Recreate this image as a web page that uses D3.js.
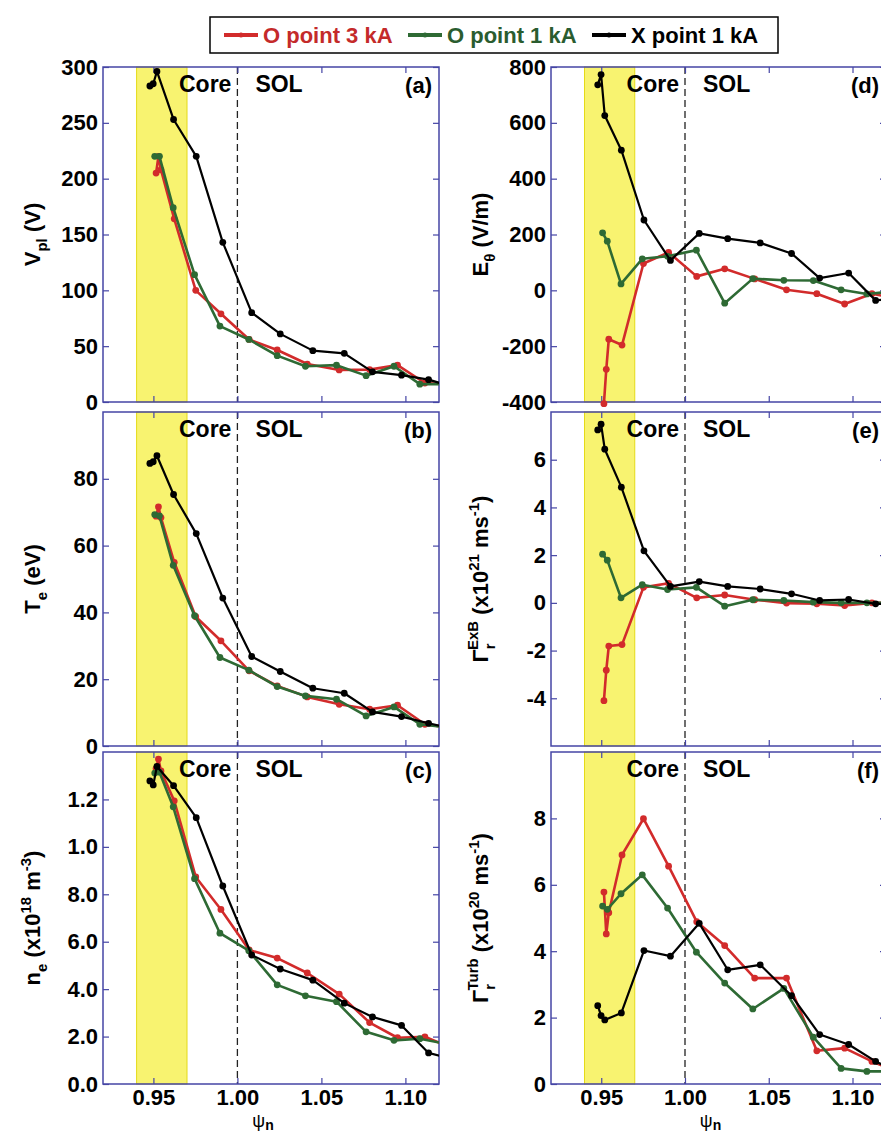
<!DOCTYPE html>
<html>
<head>
<meta charset="utf-8">
<script src="https://cdn.jsdelivr.net/npm/d3@7"></script>
<style>
  body { margin: 0; background: #fff; }
  svg { display: block; font-family: "Liberation Sans", Arial, sans-serif; }
</style>
</head>
<body>
<div id="wrapper"></div>
<script>

// probe positions (psi_n) of each series, same in every panel
var psiRed   = [0.9516, 0.9530, 0.9545, 0.9624, 0.9752, 0.9902, 1.0070, 1.0237, 1.0416, 1.0606, 1.0787, 1.0953, 1.1116, 1.125];
var psiGreen = [0.9508, 0.9536, 0.9618, 0.9745, 0.9896, 1.0068, 1.0237, 1.0405, 1.0590, 1.0766, 1.0932, 1.1086, 1.125];
var psiBlack = [0.9479, 0.9499, 0.9521, 0.9620, 0.9755, 0.9913, 1.0085, 1.0255, 1.0449, 1.0636, 1.0804, 1.0977, 1.1138, 1.125];

// (a) Vpl
var vplRed   = [205, 220, 208, 164, 100, 79, 56, 46.6, 34, 28.7, 29, 33, 17, 16];
var vplGreen = [220, 220, 174, 114, 68, 56, 41.5, 32, 33, 23.6, 32, 16, 16];
var vplBlack = [283, 285, 296, 253, 220, 143, 80, 61, 46, 43.6, 27, 24, 20, 15];
// (b) Te
var teRed   = [68.8, 71.6, 68.4, 55.0, 38.7, 31.5, 22.5, 18.0, 14.7, 12.5, 11.0, 12.2, 6.5, 5.6];
var teGreen = [69.3, 68.9, 54.1, 39.0, 26.5, 22.7, 17.8, 15.0, 14.0, 9.0, 11.7, 6.5, 5.6];
var teBlack = [84.6, 85.1, 86.9, 75.3, 63.6, 44.3, 26.8, 22.3, 17.3, 15.8, 10.2, 8.8, 6.8, 5.5];
// (c) ne
var neRed   = [13.3, 13.7, 13.2, 11.94, 8.73, 7.36, 5.65, 5.31, 4.68, 3.79, 2.59, 1.95, 1.99, 1.6];
var neGreen = [13.11, 13.15, 11.69, 8.66, 6.36, 5.62, 4.18, 3.72, 3.47, 2.20, 1.84, 1.91, 1.68];
var neBlack = [12.78, 12.61, 13.39, 12.58, 11.23, 8.35, 5.44, 4.85, 4.38, 3.41, 2.83, 2.47, 1.31, 1.1];
// (d) E theta
var eRed   = [-406, -283, -175, -196, 96, 136, 50, 77, 41, 2, -12, -49, -12, -28];
var eGreen = [206, 176, 23, 113, 122, 144, -46, 42, 36, 35, 2, -13, -4];
var eBlack = [736, 773, 626, 502, 252, 107, 204, 185, 170, 132, 44, 62, -36, -30];
// (e) Gamma ExB
var gexbRed   = [-4.10, -2.82, -1.81, -1.75, 0.65, 0.82, 0.21, 0.33, 0.13, -0.01, -0.04, -0.11, 0, 0];
var gexbGreen = [2.04, 1.79, 0.21, 0.76, 0.56, 0.65, -0.14, 0.13, 0.10, 0.03, 0, 0, 0];
var gexbBlack = [7.25, 7.49, 6.44, 4.85, 2.18, 0.69, 0.89, 0.69, 0.58, 0.38, 0.10, 0.14, -0.04, -0.04];
// (f) Gamma Turb
var gturbRed   = [5.78, 4.52, 5.16, 6.90, 7.99, 6.56, 4.89, 4.17, 3.19, 3.19, 1.00, 1.08, 0.68, 0.4];
var gturbGreen = [5.36, 5.26, 5.73, 6.30, 5.30, 3.97, 3.04, 2.26, 2.88, 1.41, 0.47, 0.38, 0.38];
var gturbBlack = [2.36, 2.06, 1.93, 2.14, 4.02, 3.85, 4.84, 3.44, 3.59, 2.66, 1.49, 1.19, 0.68, 0.4];

var seriesNames = ["O point 3 kA", "O point 1 kA", "X point 1 kA"];

// ticks
var xTicks = [0.95, 1.00, 1.05, 1.10];
var ticksA = [0, 50, 100, 150, 200, 250, 300];
var ticksB = [0, 20, 40, 60, 80];
var ticksC = [0, 2, 4, 6, 8, 10, 12];
var tickLabelsC = ["0.0", "2.0", "4.0", "6.0", "8.0", "1.0", "1.2"];
var ticksD = [-400, -200, 0, 200, 400, 600, 800];
var ticksE = [-4, -2, 0, 2, 4, 6];
var ticksF = [0, 2, 4, 6, 8];

var xDomain = [0.92, 1.12];
var bandRange = [0.94, 0.97];
var separatrix = 1.0;

var colors = ["#d22b2b", "#2e6a34", "#000000"];
var textColors = ["#c42a2a", "#2a5c2f", "#000000"];
var widths = [2.6, 2.6, 2.2];
var frameColor = "#4545a5";

var cols = [{left: 103, right: 439}, {left: 551, right: 886}];
var rows = [{top: 67, bottom: 402}, {top: 412, bottom: 746}, {top: 752, bottom: 1084}];

var panels = [
	{tag: "(a)", col: 0, row: 0, domain: [0, 300], ticks: ticksA, data: [vplRed, vplGreen, vplBlack],
	 label: [["V", ""], ["pl", "sub"], [" (V)", ""]]},
	{tag: "(b)", col: 0, row: 1, domain: [0, 100], ticks: ticksB, data: [teRed, teGreen, teBlack],
	 label: [["T", ""], ["e", "sub"], ["  (eV)", ""]]},
	{tag: "(c)", col: 0, row: 2, domain: [0, 14], ticks: ticksC, tickLabels: tickLabelsC, data: [neRed, neGreen, neBlack],
	 label: [["n", ""], ["e", "sub"], [" (x10", ""], ["18", "sup"], [" m", ""], ["-3", "sup"], [")", ""]]},
	{tag: "(d)", col: 1, row: 0, domain: [-400, 800], ticks: ticksD, data: [eRed, eGreen, eBlack],
	 label: [["E", ""], ["\u03b8", "sub"], [" (V/m)", ""]]},
	{tag: "(e)", col: 1, row: 1, domain: [-6, 8], ticks: ticksE, data: [gexbRed, gexbGreen, gexbBlack],
	 label: [["\u0393", ""], ["r", "sub"], ["ExB", "supback"], [" (x10", ""], ["21", "sup"], [" ms", ""], ["-1", "sup"], [")", ""]]},
	{tag: "(f)", col: 1, row: 2, domain: [0, 10], ticks: ticksF, data: [gturbRed, gturbGreen, gturbBlack],
	 label: [["\u0393", ""], ["r", "sub"], ["Turb", "supback"], [" (x10", ""], ["20", "sup"], [" ms", ""], ["-1", "sup"], [")", ""]]}
];

var psiList = [psiRed, psiGreen, psiBlack];

var svg = d3.select("#wrapper").append("svg")
	.attr("width", 881)
	.attr("height", 1135);

// write text made of normal / sub / sup pieces
function richText(sel, pieces, size) {
	var shift = 0;
	pieces.forEach(function(p) {
		var t = sel.append("tspan").text(p[0]);
		var target = 0;
		if (p[1] === "sub") {
			target = size * 0.3;
			t.attr("font-size", size * 0.68);
		} else if (p[1] === "sup" || p[1] === "supback") {
			target = -size * 0.42;
			t.attr("font-size", size * 0.68);
		} else {
			t.attr("font-size", size);
		}
		if (p[1] === "supback") {
			target = -size * 0.45;
			t.attr("dx", -size * 0.3);
		}
		t.attr("dy", target - shift);
		shift = target;
	});
}

panels.forEach(function(p, pi) {

	var c = cols[p.col], r = rows[p.row];
	var x = d3.scaleLinear().domain(xDomain).range([c.left, c.right]);
	var y = d3.scaleLinear().domain(p.domain).range([r.bottom, r.top]);

	var g = svg.append("g").attr("class", "panel");

	var clipId = "clip" + pi;
	g.append("clipPath").attr("id", clipId)
		.append("rect")
		.attr("x", c.left).attr("y", r.top)
		.attr("width", c.right - c.left).attr("height", r.bottom - r.top);

	// yellow band
	g.append("rect")
		.attr("x", x(bandRange[0]))
		.attr("y", r.top)
		.attr("width", x(bandRange[1]) - x(bandRange[0]))
		.attr("height", r.bottom - r.top)
		.attr("fill", "#f8f370")
		.attr("stroke", "#e4da18")
		.attr("stroke-width", 1);

	// separatrix
	g.append("line")
		.attr("x1", x(separatrix)).attr("x2", x(separatrix))
		.attr("y1", r.top).attr("y2", r.bottom)
		.attr("stroke", "#222")
		.attr("stroke-width", 1.3)
		.attr("stroke-dasharray", "7,4");

	g.append("text")
		.attr("x", x(separatrix) - 6).attr("y", r.top + 25)
		.attr("text-anchor", "end")
		.attr("font-size", 23).attr("font-weight", "bold")
		.text("Core");
	g.append("text")
		.attr("x", x(separatrix) + 18).attr("y", r.top + 25)
		.attr("font-size", 23).attr("font-weight", "bold")
		.text("SOL");
	g.append("text")
		.attr("x", c.right - 7).attr("y", r.top + 26)
		.attr("text-anchor", "end")
		.attr("font-size", 22).attr("font-weight", "bold")
		.text(p.tag);

	// axes: ticks pointing inwards on all four sides
	var left = d3.axisLeft(y).tickValues(p.ticks).tickSizeInner(-6).tickSizeOuter(0).tickPadding(5)
		.tickFormat(function(d, i) { return p.tickLabels ? p.tickLabels[i] : d; });
	var right = d3.axisRight(y).tickValues(p.ticks).tickSizeInner(-6).tickSizeOuter(0).tickFormat("");
	var top = d3.axisTop(x).tickValues(xTicks).tickSizeInner(-6).tickSizeOuter(0).tickFormat("");
	var bottom = d3.axisBottom(x).tickValues(xTicks).tickSizeInner(-6).tickSizeOuter(0).tickPadding(5)
		.tickFormat(p.row === 2 ? d3.format(".2f") : "");

	var axes = [
		g.append("g").attr("transform", "translate(" + c.left + ",0)").call(left),
		g.append("g").attr("transform", "translate(" + c.right + ",0)").call(right),
		g.append("g").attr("transform", "translate(0," + r.top + ")").call(top),
		g.append("g").attr("transform", "translate(0," + r.bottom + ")").call(bottom)
	];
	axes.forEach(function(a) {
		a.attr("font-family", null).attr("font-size", null);
		a.select(".domain").remove();
		a.selectAll(".tick line").attr("stroke", frameColor).attr("stroke-width", 1.2);
		a.selectAll(".tick text")
			.attr("fill", "#000")
			.attr("font-size", 22)
			.attr("font-weight", "bold");
	});

	// frame
	g.append("rect")
		.attr("x", c.left).attr("y", r.top)
		.attr("width", c.right - c.left).attr("height", r.bottom - r.top)
		.attr("fill", "none")
		.attr("stroke", frameColor)
		.attr("stroke-width", 1.5);

	// series
	p.data.forEach(function(vals, si) {
		var pts = vals.map(function(v, k) { return [psiList[si][k], v]; });
		var line = d3.line()
			.x(function(d) { return x(d[0]); })
			.y(function(d) { return y(d[1]); });
		g.append("path")
			.datum(pts)
			.attr("clip-path", "url(#" + clipId + ")")
			.attr("d", line)
			.attr("fill", "none")
			.attr("stroke", colors[si])
			.attr("stroke-width", widths[si])
			.attr("stroke-linejoin", "round");
		g.selectAll(".pt" + si)
			.data(pts.filter(function(d) { return d[0] <= xDomain[1]; }))
			.enter()
			.append("circle")
			.attr("cx", function(d) { return x(d[0]); })
			.attr("cy", function(d) { return y(d[1]); })
			.attr("r", 3.4)
			.attr("fill", colors[si]);
	});

	// y label
	var lx = p.col === 0 ? 40 : 488;
	var ly = (r.top + r.bottom) / 2;
	var yl = svg.append("text")
		.attr("transform", "translate(" + lx + "," + ly + ") rotate(-90)")
		.attr("text-anchor", "middle")
		.attr("font-weight", "bold");
	richText(yl, p.label, 22);

	// x label
	if (p.row === 2) {
		var xl = svg.append("text")
			.attr("x", (c.left + c.right) / 2 - 8)
			.attr("y", 1127)
			.attr("text-anchor", "middle");
		xl.append("tspan").attr("font-size", 18).text("\u03c8");
		xl.append("tspan").attr("font-size", 14).attr("font-weight", "bold").attr("dy", 3).text("n");
	}
});

// legend
var legend = svg.append("g");
legend.append("rect")
	.attr("x", 210).attr("y", 17).attr("width", 568).attr("height", 36)
	.attr("fill", "#fff").attr("stroke", "#000").attr("stroke-width", 1.5);
var legendX = [224, 408, 592];
seriesNames.forEach(function(name, i) {
	var lg = legend.append("g").attr("transform", "translate(" + legendX[i] + ",35)");
	lg.append("line").attr("x1", 0).attr("x2", 34).attr("y1", 0).attr("y2", 0)
		.attr("stroke", colors[i]).attr("stroke-width", 4);
	lg.append("circle").attr("cx", 17).attr("cy", 0).attr("r", 2.5).attr("fill", colors[i]);
	lg.append("text").attr("x", 39).attr("y", 8)
		.attr("font-size", 22).attr("font-weight", "bold")
		.attr("fill", textColors[i])
		.text(name);
});

</script>
</body>
</html>
